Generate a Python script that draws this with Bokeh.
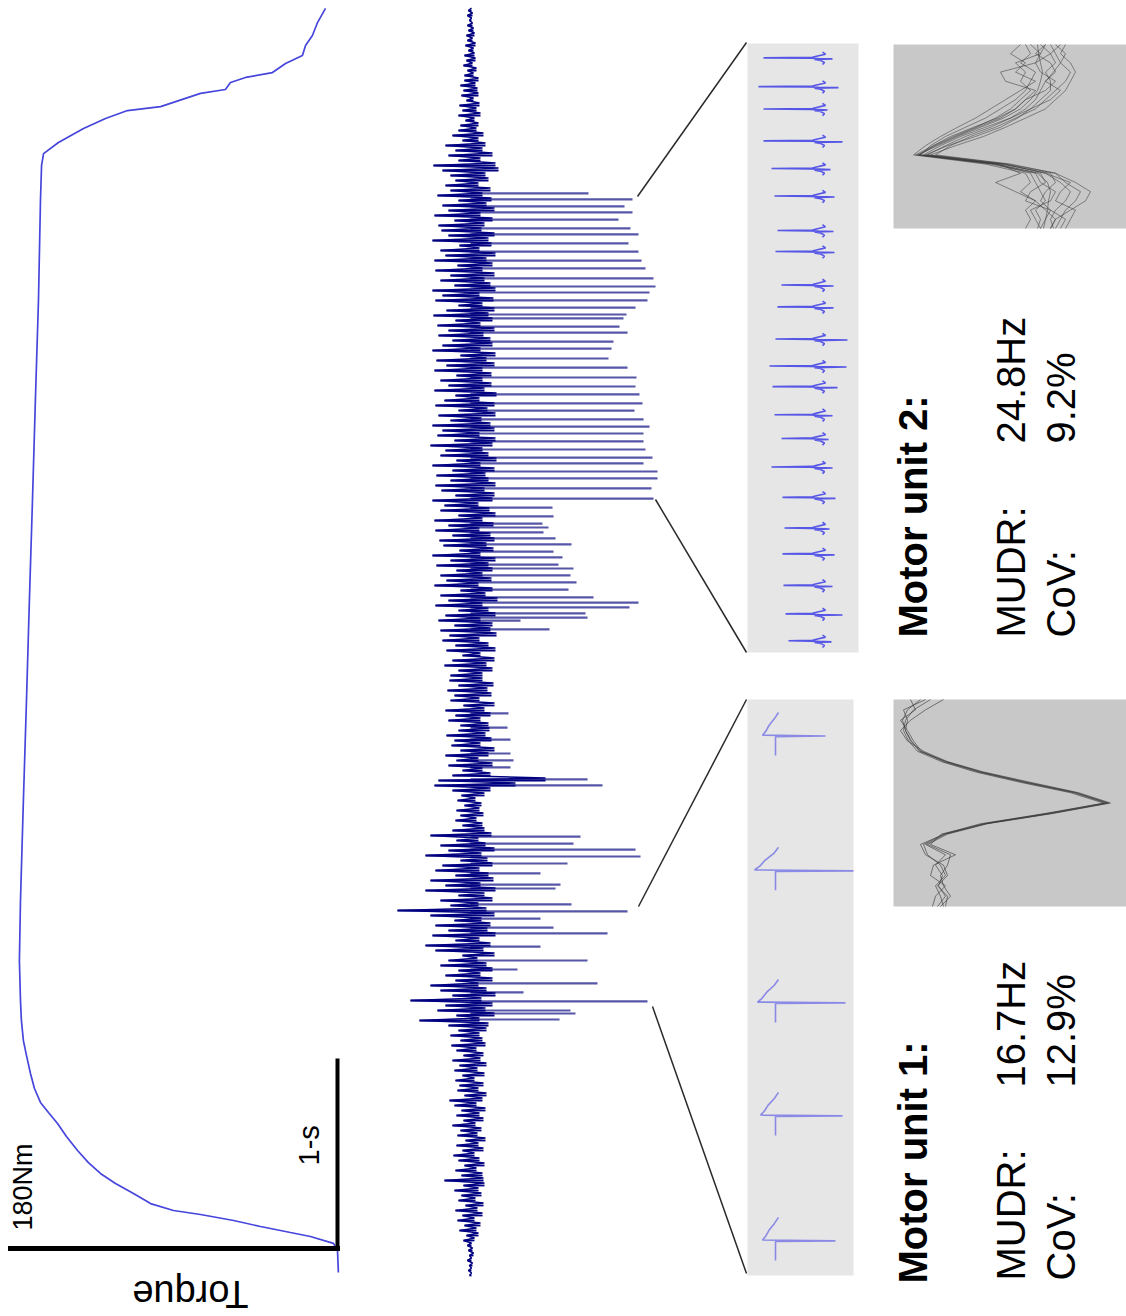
import numpy as np
from bokeh.plotting import figure
from bokeh.models import Range1d
from bokeh.embed import file_html
from bokeh.resources import INLINE
from bokeh.core.properties import value

# ---------------- data ----------------
# torque trace: time (s) and torque (Nm)
torque_t = [-0.128, -0.01, 0.027, 0.064, 0.085, 0.117, 0.149, 0.181, 0.202, 0.239, 0.293, 0.346,
            0.399, 0.457, 0.521, 0.596, 0.665, 0.723, 0.777, 0.851, 0.931, 1.027, 1.106, 1.213,
            1.319, 1.532, 1.851, 2.383, 2.915, 3.447, 3.979, 4.511, 5.043, 5.574, 5.761,
            5.824, 5.883, 5.957, 6.011, 6.053, 6.074, 6.144, 6.165, 6.202, 6.229, 6.255, 6.303,
            6.346, 6.399, 6.452, 6.521, 6.596]
torque_nm = [-0.5, 0, 2.2, 14.9, 25.9, 42.4, 57.2, 75.4, 90.3, 102.9, 112.3, 122.2,
             130.5, 137.1, 143.1, 149.2, 154.1, 159.1, 163.5, 166.8, 169.0, 171.2, 172.9, 174.0,
             174.5, 175.1, 174.5, 172.9, 171.2, 169.6, 167.9, 166.3, 164.6, 163.5, 162.9,
             161.8, 153.6, 139.8, 127.7, 115.6, 97.4, 75.4, 61.7, 58.9, 50.6, 35.8, 28.6,
             19.3, 17.6, 13.8, 11.0, 6.6]

# surface EMG rows (a.u.), one row every emg_dt seconds from emg_t0
emg_t0 = -0.1436
emg_dt = 5 / 188
emg_left = [
    -1, -2, -1, -3, -1, -2, -3, -7, -4, -11,
    -6, -13, -8, -15, -5, -12, -9, -16, -7, -26,
    -9, -15, -6, -12, -17, -8, -14, -5, -13, -10,
    -18, -7, -14, -9, -16, -21, -6, -13, -11, -15,
    -8, -16, -11, -18, -7, -14, -19, -10, -20, -12,
    -22, -51, -14, -33, -25, -60, -18, -30, -40, -15,
    -25, -12, -30, -22, -8, -35, -45, -15, -38, -22,
    -35, -16, -40, -73, -20, -30, -12, -45, -25, -40,
    -15, -35, -28, -10, -45, -22, -30, -14, -40, -18,
    -8, -15, -10, -14, -6, -13, -9, -18, -36, -32,
    -18, -8, -22, -14, -25, -10, -19, -16, -24, -12,
    -10, -22, -15, -25, -7, -20, -16, -23, -12, -21,
    -20, -12, -26, -18, -8, -24, -15, -28, -21, -30,
    -16, -32, -25, -12, -35, -22, -30, -10, -36, -24,
    -30, -14, -34, -20, -38, -11, -27, -31, -18, -35,
    -22, -36, -12, -30, -26, -38, -15, -29, -35, -20,
    -34, -18, -38, -14, -30, -25, -40, -16, -33, -28,
    -38, -20, -32, -12, -35, -26, -15, -36, -22, -30,
    -14, -36, -24, -34, -10, -38, -28, -18, -32, -22,
    -33, -15, -37, -24, -12, -35, -28, -38, -16, -30,
    -20, -35, -13, -36, -25, -30, -11, -38, -22, -29,
    -32, -16, -36, -22, -28, -12, -33, -20, -25, -15,
    -20, -28, -37, -12, -22, -15, -25, -8, -18, -12,
    -10, -5, -12, -8, -11, -4, -9, -7, -10, -6,
    -6, -3, -7, -4, -6, -2, -5, -3, -4, -2,
    -3, -1, -3, -2]
emg_right = [
    1, 1, 2, 1, 3, 2, 1, 4, 8, 6,
    10, 4, 12, 7, 13, 5, 11, 8, 14, 13,
    12, 6, 14, 9, 4, 13, 8, 15, 7, 11,
    5, 13, 9, 15, 6, 12, 16, 8, 13, 4,
    14, 7, 16, 10, 13, 6, 15, 12, 9, 16,
    18, 9, 24, 15, 22, 11, 25, 16, 8, 22,
    10, 22, 16, 7, 24, 13, 20, 9, 25, 17,
    20, 11, 24, 16, 8, 22, 14, 25, 10, 23,
    18, 9, 22, 17, 11, 24, 15, 8, 21, 14,
    12, 6, 13, 9, 11, 5, 14, 20, 45, 75,
    20, 12, 22, 8, 18, 24, 10, 21, 15, 19,
    18, 10, 20, 14, 24, 9, 21, 17, 23, 12,
    12, 22, 16, 24, 10, 25, 18, 9, 26, 20,
    22, 10, 25, 18, 12, 27, 15, 22, 8, 21,
    12, 22, 18, 25, 10, 23, 16, 24, 20, 9,
    23, 12, 25, 19, 8, 22, 24, 14, 25, 18,
    15, 24, 10, 26, 18, 12, 22, 25, 9, 24,
    20, 11, 25, 17, 24, 9, 26, 14, 21, 12,
    21, 12, 24, 16, 25, 10, 22, 20, 13, 24,
    10, 22, 18, 24, 12, 23, 9, 25, 20, 14,
    24, 12, 22, 16, 25, 9, 21, 18, 24, 11,
    14, 22, 10, 24, 16, 21, 12, 20, 8, 18,
    15, 28, 25, 10, 22, 12, 15, 8, 13, 6,
    8, 4, 10, 6, 9, 3, 8, 7, 5, 8,
    3, 6, 2, 5, 4, 3, 5, 2, 4, 3,
    2, 1, 2, 1]

# motor unit action potentials in the EMG (time s, peak a.u.)
mu_spike_t = [5.612, 5.580, 5.543, 5.511, 5.473, 5.426, 5.394, 5.346, 5.303, 5.255, 5.213, 5.160,
              5.117, 5.085, 5.043, 5.005, 4.968, 4.947, 4.904, 4.872, 4.824, 4.787, 4.734, 4.686,
              4.633, 4.585, 4.543, 4.495, 4.457, 4.410, 4.372, 4.335, 4.293, 4.250, 4.207, 4.176,
              4.133, 4.096, 4.043, 3.989,
              3.941, 3.894, 3.856, 3.835, 3.809, 3.777, 3.745, 3.707, 3.676, 3.638, 3.617, 3.580,
              3.543, 3.505, 3.463, 3.436, 3.410, 3.378, 3.356, 3.340, 3.293,
              2.846, 2.771, 2.707, 2.633, 2.596, 2.559, 2.495, 2.463,
              2.191, 2.154, 2.122, 2.085, 2.048, 1.995, 1.936, 1.915, 1.830, 1.793, 1.755, 1.707,
              1.676, 1.606, 1.532, 1.484, 1.410, 1.362, 1.314, 1.266, 1.250, 1.218]
mu_spike_amp = [118, 162, 154, 162, 148, 160, 168, 158, 168, 171, 175, 183,
                185, 179, 177, 165, 156, 153, 149, 157, 143, 141, 138, 157,
                166, 165, 169, 172, 164, 173, 179, 173, 173, 175, 182, 173,
                187, 187, 181, 183,
                82, 83, 72, 78, 73, 85, 101, 83, 92, 88, 103, 100,
                106, 98, 123, 168, 159, 115, 117, 50, 79,
                38, 37, 40, 40, 43, 40, 117, 132,
                110, 103, 165, 170, 97, 70, 90, 85, 101, 157, 70, 83,
                137, 70, 117, 47, 127, 53, 177, 100, 105, 89]

# motor unit 2 zoomed spike train (time ms, negative and positive peaks a.u.)
mu2_t = [862.4, 820.6, 788.1, 741.9, 701.7, 661.8, 611.8, 581.3, 532.7, 501.0, 454.3,
         415.1, 385.2, 344.4, 310.0, 268.6, 224.5, 180.0, 142.5, 96.7, 55.3, 16.3]
mu2_neg = [-59, -64, -59, -59, -51, -48, -45, -47, -41, -45, -47,
           -53, -50, -48, -41, -51, -40, -38, -40, -39, -37, -34]
mu2_pos = [10, 16, 5, 20, 8, 12, 11, 12, 11, 11, 25,
           24, 15, 10, 6, 10, 13, 7, 12, 10, 20, 9]

# motor unit 1 zoomed spike train
mu1_t = [16.7, 76.2, 130.0, 192.9, 257.1]
mu1_neg = [-13, -15, -18, -21, -13]
mu1_pos = [60, 67, 70, 78, 50]

# motor unit waveforms (amplitude a.u. at 1 ms samples)
mu2_wave_t = list(range(21))
mu2_waves = [
    [-8, -7, -5, -3, -5, -8, -15, -25, -42, -65, -88, -108, -128, -48, -8, 2, 5, 3, 2, 0, -2],
    [5, 10, 15, 8, 0, -5, -10, -20, -35, -55, -80, -100, -118, -40, 0, 15, 25, 20, 10, 5, 8],
    [-20, -15, -25, -10, -15, -20, -30, -45, -60, -80, -100, -115, -125, -50, -15, -10, -5, 0, -10, -5, -8],
    [10, 20, 15, 25, 20, 10, 0, -10, -30, -50, -75, -95, -110, -35, 10, 20, 35, 30, 20, 15, 10],
    [-15, -5, -30, -20, -25, -15, -25, -35, -50, -70, -92, -112, -130, -55, -10, -5, 10, 5, -15, -10, -5],
    [0, -10, 5, 10, 0, 15, 5, -15, -35, -60, -85, -105, -122, -45, 5, 10, 0, -5, 5, 20, 15],
    [20, 15, 25, 30, 25, 20, 10, 0, -20, -40, -62, -90, -115, -38, 10, 30, 45, 40, 25, 10, 5],
    [-5, 5, -10, -5, 10, 0, -20, -30, -45, -68, -90, -110, -126, -52, -5, 0, -15, -20, 5, 0, -5],
    [-25, -35, -20, -30, -10, -25, -40, -55, -70, -88, -105, -120, -132, -60, -20, -15, -25, -10, -20, -15, -20],
    [15, 5, 10, 0, 5, 5, -5, -15, -28, -45, -70, -98, -120, -42, 0, 25, 15, 10, 30, 25, 20],
    [0, -5, -10, -45, -40, -10, -20, -30, -48, -72, -95, -112, -127, -46, -25, -50, -30, -10, 0, 10, 5],
]
mu1_wave_t = list(range(21))
mu1_waves = [
    [-15, -28, -33, -30, -25, -15, 10, 45, 90, 140, 172, 115, 50, 10, -10, 10, 0, 7, 3, 10, 2],
    [-5, -22, -30, -32, -27, -18, 6, 40, 85, 135, 168, 112, 45, 8, -12, -8, 5, 10, 0, 5, 8],
    [8, -10, -25, -35, -28, -12, 12, 48, 95, 143, 175, 118, 52, 12, -8, 15, 12, 5, 8, 15, 5],
    [-25, -20, -35, -28, -22, -14, 8, 43, 88, 138, 170, 110, 48, 6, -5, 20, -2, -5, 10, 0, -3],
    [-10, -32, -28, -30, -24, -16, 11, 46, 92, 141, 173, 116, 50, 9, -15, -10, 8, 12, 2, 12, 10],
]

# ---------------- figure ----------------
W, H = 1126, 1316
p = figure(width=W, height=H, x_range=Range1d(0, W), y_range=Range1d(H, 0),
           output_backend="svg", toolbar_location=None, min_border=0,
           x_axis_location=None, y_axis_location=None)
p.grid.visible = False
p.outline_line_color = None
p.background_fill_color = "white"
p.border_fill_color = "white"

p.extra_x_ranges = {
    "torque": Range1d(185.5, -434.3),
    "emg": Range1d(-470, 656),
    "mu2a": Range1d(-822, 304),
    "mu1a": Range1d(-775, 351),
    "w2a": Range1d(-1045, 81),
    "w1a": Range1d(-935, 191),
}
p.extra_y_ranges = {
    "time": Range1d(-0.3617, 6.6383),
    "mu2t": Range1d(-963.7, 946.3),
    "mu1t": Range1d(-19.52, 607.14),
    "w2t": Range1d(138.26, -4.78),
    "w1t": Range1d(59.61, -67.54),
}

# panels (layout)
p.quad(left=[747, 747], right=[858, 853], top=[43, 699], bottom=[652, 1275],
       fill_color="#e6e6e6", line_color=None)
p.quad(left=[893, 893], right=[1126, 1126], top=[44, 699], bottom=[228, 906],
       fill_color="#c8c8c8", line_color=None)

# connectors
p.segment(x0=[637, 655, 638, 652], y0=[196, 499, 906, 1006],
          x1=[746, 746, 746, 746], y1=[42, 652, 699, 1273],
          line_color="#2a2a2a", line_width=1.5)

# torque
p.line(torque_nm, torque_t, x_range_name="torque", y_range_name="time",
       line_color="#4646dc", line_width=1.7)

# MU spikes in EMG
p.segment(x0=[0] * len(mu_spike_t), y0=mu_spike_t, x1=mu_spike_amp, y1=mu_spike_t,
          x_range_name="emg", y_range_name="time", line_color="#5656a8", line_width=2.2)

# EMG: row strokes plus zigzag between rows
emg_rows_t = [emg_t0 + i * emg_dt for i in range(len(emg_left))]
p.segment(x0=emg_left, y0=emg_rows_t, x1=emg_right, y1=emg_rows_t,
          x_range_name="emg", y_range_name="time", line_color="#000080", line_width=1.8)
ex, ey = [], []
for i, (l, r) in enumerate(zip(emg_left, emg_right)):
    ex += [l, r]
    ey += [emg_rows_t[i], emg_rows_t[i] + 0.5 * emg_dt]
p.line(ex, ey, x_range_name="emg", y_range_name="time", line_color="#000080", line_width=1.5)

# MU2 zoomed spikes
xs2, ys2 = [], []
for tk, n, ps in zip(mu2_t, mu2_neg, mu2_pos):
    xs2.append([0, 3, -6, -10, n, -12, -4, ps, -8, -2, 2, 0])
    ys2.append([tk + 9, tk + 6, tk + 3, tk + 1.5, tk + 0.7, tk + 0.2, tk - 0.2, tk - 0.8,
                tk - 1.6, tk - 3, tk - 6, tk - 9])
p.multi_line(xs2, ys2, x_range_name="mu2a", y_range_name="mu2t",
             line_color="#3c3ce6", line_width=1.6, line_alpha=0.85)

# MU1 zoomed spikes
xs1, ys1 = [], []
for tk, n, ps in zip(mu1_t, mu1_neg, mu1_pos):
    xs1.append([0, 0, ps, n, 0.75 * n, 0.5 * n, 0.08 * n, 3])
    ys1.append([tk - 9.5, tk - 0.5, tk - 0.2, tk + 0.2, tk + 2, tk + 4.8, tk + 8.1, tk + 11])
p.multi_line(xs1, ys1, x_range_name="mu1a", y_range_name="mu1t",
             line_color="#8a8ae6", line_width=1.6)

# waveforms
p.multi_line(mu2_waves, [mu2_wave_t] * len(mu2_waves), x_range_name="w2a", y_range_name="w2t",
             line_color="#3a3a3a", line_width=0.9, line_alpha=0.6)
p.multi_line(mu1_waves, [mu1_wave_t] * len(mu1_waves), x_range_name="w1a", y_range_name="w1t",
             line_color="#3a3a3a", line_width=0.9, line_alpha=0.7)

# scale bars (180 Nm, 1 s)
p.line([0, 180], [0, 0], x_range_name="torque", y_range_name="time",
       line_color="black", line_width=5, line_cap="square")
p.line([0, 0], [0, 1], x_range_name="torque", y_range_name="time",
       line_color="black", line_width=4, line_cap="square")

F = value("Liberation Sans")
HALF = np.pi / 2
p.text(x=[248], y=[1293], text=["Torque"], angle=np.pi, text_font=F, text_font_size="38px",
       text_align="left", text_baseline="alphabetic", text_color="black")
p.text(x=[22], y=[1230], text=["180Nm"], angle=HALF, text_font=F, text_font_size="27px",
       text_align="left", text_baseline="alphabetic", text_color="black")
p.text(x=[308], y=[1165], text=["1-s"], angle=HALF, text_font=F, text_font_size="29px",
       text_align="left", text_baseline="alphabetic", text_color="black")

p.text(x=[912, 912], y=[637, 1283], text=["Motor unit 2:", "Motor unit 1:"], angle=HALF,
       text_font=F, text_font_size="40px", text_font_style="bold",
       text_align="left", text_baseline="alphabetic", text_color="black")
p.text(x=[1010, 1060, 1010, 1060], y=[637, 637, 1280, 1280],
       text=["MUDR:", "CoV:", "MUDR:", "CoV:"], angle=HALF,
       text_font=F, text_font_size="40px",
       text_align="left", text_baseline="alphabetic", text_color="black")
p.text(x=[1010, 1060, 1010, 1060], y=[443, 443, 1087, 1087],
       text=["24.8Hz", "9.2%", "16.7Hz", "12.9%"], angle=HALF,
       text_font=F, text_font_size="40px",
       text_align="left", text_baseline="alphabetic", text_color="black")

open("out.html", "w").write(file_html(p, INLINE))
